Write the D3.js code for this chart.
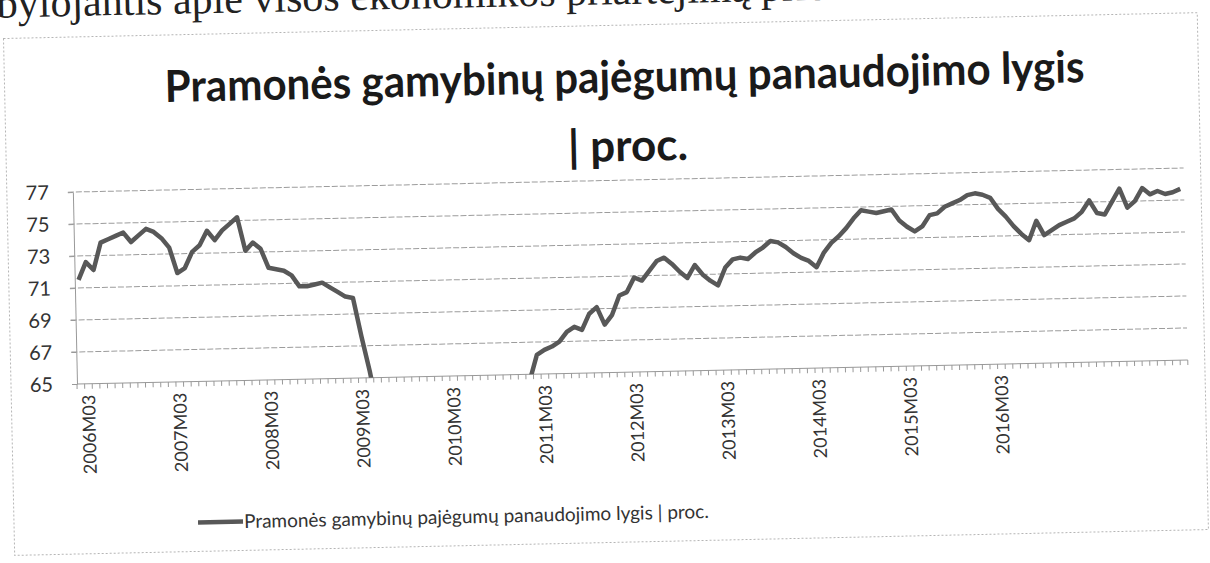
<!DOCTYPE html>
<html>
<head>
<meta charset="utf-8">
<script src="https://cdn.jsdelivr.net/npm/d3@7/dist/d3.min.js"></script>
<style>
  body { margin: 0; background: #fff; }
  svg { display: block; }
</style>
</head>
<body>
<svg width="1210" height="563"></svg>
<script>
// monthly values, first month is 2006M02 (values under 65 are cut off by the axis)
var values = [
  71.5, 72.6, 72.1, 73.8, 74.0, 74.2, 74.4, 73.8, 74.2, 74.6, 74.4, 74.0,
  73.4, 71.8, 72.1, 73.1, 73.5, 74.4, 73.8, 74.4, 74.8, 75.2, 73.1, 73.6,
  73.2, 72.0, 71.9, 71.8, 71.5, 70.8, 70.8, 70.9, 71.0, 70.7, 70.4, 70.1,
  70.0, 67.6, 65.4, 62.8, 60.1, 58.0, 56.5, 55.6, 55.0, 54.8, 55.2, 55.8,
  56.5, 57.0, 57.6, 58.2, 58.9, 59.6, 60.3, 61.0, 61.8, 62.6, 63.4, 64.6,
  66.2, 66.5, 66.7, 67.0, 67.6, 67.9, 67.7, 68.7, 69.1, 68.0, 68.6, 69.8,
  70.0, 70.9, 70.7, 71.3, 71.9, 72.1, 71.7, 71.2, 70.8, 71.6, 71.0, 70.6,
  70.3, 71.4, 71.9, 72.0, 71.9, 72.3, 72.6, 73.0, 72.9, 72.6, 72.2, 71.9,
  71.7, 71.3, 72.2, 72.8, 73.2, 73.7, 74.3, 74.8, 74.7, 74.6, 74.7, 74.8,
  74.1, 73.7, 73.4, 73.7, 74.4, 74.5, 74.9, 75.1, 75.3, 75.6, 75.7, 75.6,
  75.4, 74.7, 74.2, 73.6, 73.1, 72.7, 73.9, 73.0, 73.3, 73.6, 73.8, 74.0,
  74.4, 75.1, 74.3, 74.2, 75.0, 75.8, 74.6, 75.0, 75.8, 75.4, 75.6, 75.4,
  75.5, 75.7
];
var startYear = 2006, startMonth = 2;

var tickLabels = ["2006M03", "2007M03", "2008M03", "2009M03", "2010M03", "2011M03",
                  "2012M03", "2013M03", "2014M03", "2015M03", "2016M03"];
var yTicks = [65, 67, 69, 71, 73, 75, 77];

var titleLines = ["Pramonės gamybinų pajėgumų panaudojimo lygis", "| proc."];
var seriesName = "Pramonės gamybinų pajėgumų panaudojimo lygis | proc.";
var pageText = "bylojantis apie visos ekonomikos priartėjimą prie";

// category names like 2006M02
var categories = values.map(function(d, i) {
  var m = startMonth - 1 + i,
      yr = startYear + Math.floor(m / 12),
      mm = m % 12 + 1;
  return yr + "M" + (mm < 10 ? "0" + mm : mm);
});

var svg = d3.select("svg"),
    plot = {left: 77, right: 1188, top: 192, bottom: 384},
    font = "Lato, 'Open Sans', sans-serif",
    // the scanned page is tilted a little, so everything goes in one rotated group
    page = svg.append("g").attr("transform", "rotate(-1.24," + plot.left + "," + plot.bottom + ")");

var x = d3.scaleBand()
    .domain(categories)
    .range([plot.left, plot.right]);

var y = d3.scaleLinear()
    .domain([65, 77])
    .range([plot.bottom, plot.top]);

// text of the page above the chart, cut by the scan
page.append("text")
    .attr("x", 5)
    .attr("y", 16)
    .attr("font-family", "'Liberation Serif', serif")
    .attr("font-size", 42)
    .attr("fill", "#222")
    .text(pageText);

// chart frame
page.append("rect")
    .attr("x", 11)
    .attr("y", 37)
    .attr("width", 1194)
    .attr("height", 517)
    .attr("fill", "none")
    .attr("stroke", "#b5b5b5")
    .attr("stroke-dasharray", "2,2");

// title, two lines
var title = page.append("g")
    .attr("font-family", font)
    .attr("font-weight", "bold")
    .attr("font-size", 44)
    .attr("fill", "#1a1a1a")
    .attr("text-anchor", "middle");

title.append("text")
    .attr("x", 631)
    .attr("y", 104)
    .attr("textLength", 920)
    .attr("lengthAdjust", "spacingAndGlyphs")
    .text(titleLines[0]);

title.append("text")
    .attr("x", 633)
    .attr("y", 173)
    .text(titleLines[1]);

// gridlines
page.append("g")
  .selectAll("line")
  .data(yTicks.slice(1))
  .enter().append("line")
    .attr("x1", plot.left - 5)
    .attr("x2", plot.right)
    .attr("y1", y)
    .attr("y2", y)
    .attr("stroke", "#9c9c9c")
    .attr("stroke-dasharray", "6,2");

// y axis
var yAxis = page.append("g")
    .attr("transform", "translate(" + plot.left + ",0)")
    .call(d3.axisLeft(y).tickValues(yTicks).tickSize(5).tickSizeOuter(0).tickPadding(19));
yAxis.select(".domain").attr("stroke", "#999");
yAxis.selectAll(".tick line").attr("stroke", "#999");
yAxis.selectAll("text")
    .attr("font-family", font)
    .attr("font-size", 20)
    .attr("fill", "#333");

// x axis: line, a tick between every month, labels once a year
page.append("line")
    .attr("x1", plot.left)
    .attr("x2", plot.right)
    .attr("y1", plot.bottom)
    .attr("y2", plot.bottom)
    .attr("stroke", "#999");

page.append("g")
  .selectAll("line")
  .data(categories.concat([null]))
  .enter().append("line")
    .attr("x1", function(d) { return d === null ? plot.right : x(d); })
    .attr("x2", function(d) { return d === null ? plot.right : x(d); })
    .attr("y1", plot.bottom)
    .attr("y2", plot.bottom + 5)
    .attr("stroke", "#999");

var xAxis = page.append("g")
    .attr("transform", "translate(0," + plot.bottom + ")")
    .call(d3.axisBottom(x).tickValues(tickLabels).tickSize(0));
xAxis.select(".domain").remove();
xAxis.selectAll("text")
    .attr("transform", "rotate(-90)")
    .attr("text-anchor", "end")
    .attr("x", -11)
    .attr("y", 0)
    .attr("dy", "0.35em")
    .attr("font-family", font)
    .attr("font-size", 18)
    .attr("fill", "#333");

// the series line, clipped to the plot area
page.append("clipPath")
    .attr("id", "plot-clip")
  .append("rect")
    .attr("x", plot.left)
    .attr("y", plot.top - 10)
    .attr("width", plot.right - plot.left)
    .attr("height", plot.bottom - plot.top + 10);

var line = d3.line()
    .x(function(d, i) { return x(categories[i]) + x.bandwidth() / 2; })
    .y(function(d) { return y(d); });

page.append("path")
    .datum(values)
    .attr("clip-path", "url(#plot-clip)")
    .attr("fill", "none")
    .attr("stroke", "#585858")
    .attr("stroke-width", 4.5)
    .attr("stroke-linejoin", "round")
    .attr("d", line);

// legend
var legend = page.append("g")
    .attr("transform", "translate(195,525)");

legend.append("line")
    .attr("x1", 0)
    .attr("x2", 45)
    .attr("stroke", "#585858")
    .attr("stroke-width", 4.5);

legend.append("text")
    .attr("x", 46)
    .attr("dy", "0.35em")
    .attr("font-family", font)
    .attr("font-size", 19)
    .attr("fill", "#333")
    .text(seriesName);
</script>
</body>
</html>
